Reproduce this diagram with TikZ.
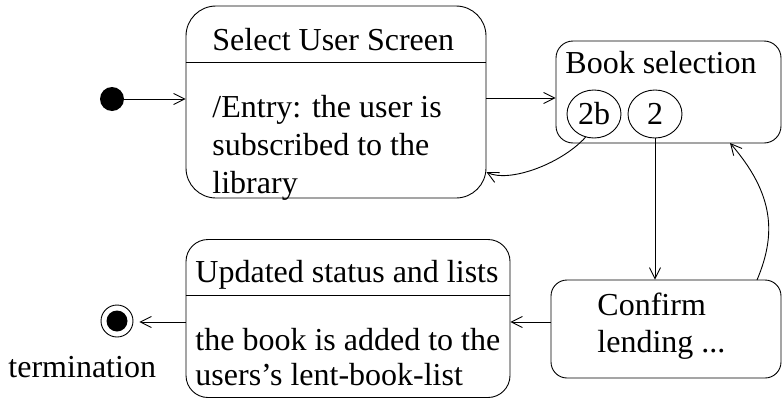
\documentclass[tikz,border=0pt]{standalone}
\usepackage{fontspec}
\setmainfont{Liberation Serif}
\usetikzlibrary{arrows.meta,shapes.geometric}
\begin{document}
\begin{tikzpicture}[x=1pt,y=-1pt,line width=0.9pt,
  arr/.style={-{Straight Barb[length=11pt,width=11pt,line width=0.9pt]}},
  statebox/.style={draw,inner sep=0pt},
  txt/.style={anchor=base west,inner sep=0pt,font=\fontsize{32}{38}\selectfont},
  ell/.style={draw,ellipse,inner sep=0pt,minimum width=54pt,minimum height=48pt,font=\fontsize{32}{38}\selectfont}]
\useasboundingbox (0,0) rectangle (782,399);
% states
\node[statebox,rounded corners=30pt,minimum width=300pt,minimum height=192pt] (sel) at (336,102) {};
\node[statebox,rounded corners=17pt,minimum width=225pt,minimum height=102pt] (book) at (668.5,92) {};
\node[statebox,rounded corners=16pt,minimum width=230pt,minimum height=98pt] (conf) at (666,329) {};
\node[statebox,rounded corners=22pt,minimum width=324pt,minimum height=158pt] (upd) at (348,318.5) {};
% dividers
\coordinate (selDiv) at (0,62);
\coordinate (updDiv) at (0,295);
\draw (sel.west |- selDiv) -- (sel.east |- selDiv);
\draw (upd.west |- updDiv) -- (upd.east |- updDiv);
% texts
\node[txt] (selT) at (212,50) {Select User Screen};
\node[txt] (selB1) at (212,117) {/Entry: the user is};
\node[txt] (selB2) at (212,155) {subscribed to the};
\node[txt] (selB3) at (212,193) {library};
\node[txt] (bookT) at (565,73) {Book selection};
\node[txt] (confT1) at (597,315) {Confirm};
\node[txt] (confT2) at (597,352) {lending ...};
\node[txt] (updT) at (195,282) {Updated status and lists};
\node[txt] (updB1) at (195,350) {the book is added to the};
\node[txt] (updB2) at (195,385) {users’s lent-book-list};
\node[txt] (termT) at (8,377) {termination};
% sub-states
\node[ell] (e2b) at (594,114) {2b};
\node[ell] (e2) at (655,114) {2};
% pseudo states
\node[circle,fill=black,inner sep=0pt,minimum size=24pt] (init) at (112,99) {};
\node[circle,draw,inner sep=0pt,minimum size=32pt] (fin) at (117,321) {};
\node[circle,fill=black,inner sep=0pt,minimum size=21pt] (finIn) at (117,321) {};
% transitions
\coordinate (yA) at (0,98);
\coordinate (yB) at (0,172);
\coordinate (yC) at (0,322);
\coordinate (confOut) at (757,280);
\coordinate (bookIn) at (730,143);
\draw[arr] (init) -- (init -| sel.west);
\draw[arr] (sel.east |- yA) -- (book.west |- yA);
\draw[arr] (e2b.250) .. controls (560,165) and (508,183) .. (sel.east |- yB);
\draw[arr] (e2.south) -- (e2.south |- conf.north);
\draw[arr] (confOut) .. controls (776,235) and (775,195) .. (bookIn);
\draw[arr] (conf.west |- yC) -- (upd.east |- yC);
\draw[arr,shorten >=6pt] (upd.west |- yC) -- (fin.east |- yC);
\end{tikzpicture}
\end{document}
